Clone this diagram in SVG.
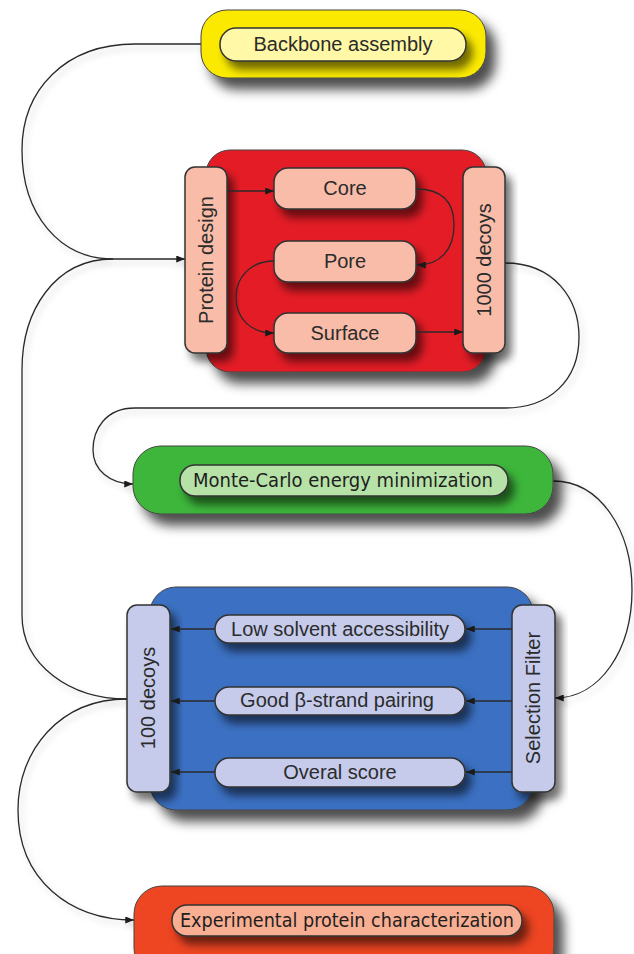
<svg xmlns="http://www.w3.org/2000/svg" width="634" height="954" viewBox="0 0 634 954">
<style>
.t{font-family:"Liberation Sans",Arial,sans-serif;font-size:20px;fill:#2b2b2b;text-anchor:middle;dominant-baseline:central}
.tc{font-family:"DejaVu Sans Condensed","DejaVu Sans",sans-serif;font-size:20px;fill:#1e1e1e;text-anchor:middle;dominant-baseline:central}
.box{stroke:#444;stroke-width:1;filter:url(#sh)}
.pill{stroke:#333;stroke-width:1.5;filter:url(#sh2)}
.c{fill:none;stroke:#2a2a2a;stroke-width:1.3}
.a{marker-end:url(#ar)}
</style>
<defs>
<filter id="sh" x="-20%" y="-30%" width="150%" height="170%">
<feGaussianBlur in="SourceAlpha" stdDeviation="6"/>
<feOffset dx="9" dy="11" result="b"/>
<feFlood flood-color="#000" flood-opacity="0.7"/>
<feComposite in2="b" operator="in"/>
<feMerge><feMergeNode/><feMergeNode in="SourceGraphic"/></feMerge>
</filter>
<filter id="sh2" x="-20%" y="-40%" width="150%" height="200%">
<feGaussianBlur in="SourceAlpha" stdDeviation="4"/>
<feOffset dx="6" dy="8" result="b"/>
<feFlood flood-color="#000" flood-opacity="0.55"/>
<feComposite in2="b" operator="in"/>
<feMerge><feMergeNode/><feMergeNode in="SourceGraphic"/></feMerge>
</filter>
<filter id="sh3" x="-20%" y="-20%" width="140%" height="140%">
<feGaussianBlur in="SourceAlpha" stdDeviation="3"/>
<feOffset dx="3" dy="4" result="b"/>
<feFlood flood-color="#000" flood-opacity="0.2"/>
<feComposite in2="b" operator="in"/>
<feMerge><feMergeNode/><feMergeNode in="SourceGraphic"/></feMerge>
</filter>
<marker id="ar" viewBox="0 0 10 8" refX="10" refY="4" markerWidth="9" markerHeight="7" markerUnits="userSpaceOnUse" orient="auto">
<path d="M0,0 L10,4 L0,8 Z" fill="#1a1a1a"/>
</marker>
</defs>

<g id="connectors" filter="url(#sh3)">
<path class="c" d="M202,44 H135 C65,44 22,90 22,150 C22,215 60,259 113,259"/>
<path class="c" d="M127,699 C70,699 22,665 22,615 V370 C22,310 55,259 113,259"/>
<path class="c a" d="M113,259 H185"/>
<path class="c a" d="M127,699 C60,699 18,750 18,810 C18,880 70,920 134,920"/>
<path class="c a" d="M505,263 C555,263 579,300 579,337 C579,380 550,408 505,408 H135 C105,408 93,430 93,450 C93,470 110,484 133,484"/>
<path class="c a" d="M553,481 C600,481 632,530 632,590 C632,650 600,698 555,698"/>
</g>

<g id="backbone">
<rect class="box" x="201" y="10" width="285" height="68" rx="26" fill="#fbea00"/>
<rect class="pill" x="220" y="28" width="246" height="33" rx="16" fill="#fff8a6"/>
<text class="t" x="343" y="44">Backbone assembly</text>
</g>

<g id="design">
<rect class="box" x="206" y="150" width="280" height="222" rx="24" fill="#e41d26"/>
<g id="protein-design">
<rect class="pill" x="185" y="167" width="42" height="186" rx="10" fill="#f8bca8"/>
<text class="t" transform="translate(206,260) rotate(-90)">Protein design</text>
</g>
<g id="core">
<rect class="pill" x="274" y="168" width="142" height="41" rx="14" fill="#f8bca8"/>
<text class="t" x="345" y="188">Core</text>
</g>
<g id="pore">
<rect class="pill" x="274" y="241" width="142" height="41" rx="14" fill="#f8bca8"/>
<text class="t" x="345" y="261">Pore</text>
</g>
<g id="surface">
<rect class="pill" x="274" y="313" width="142" height="40" rx="14" fill="#f8bca8"/>
<text class="t" x="345" y="333">Surface</text>
</g>
<g id="decoys1000">
<rect class="pill" x="463" y="167" width="42" height="186" rx="10" fill="#f8bca8"/>
<text class="t" transform="translate(484,260) rotate(-90)">1000 decoys</text>
</g>
<g id="design-connectors">
<path class="c a" d="M227,191 H274"/>
<path class="c a" d="M416,189 C445,189 454,205 454,225 C454,250 440,265 417,265"/>
<path class="c a" d="M274,261 C250,261 236,278 236,297 C236,318 250,333 274,333"/>
<path class="c a" d="M416,332 H463"/>
</g>
</g>

<g id="montecarlo">
<rect class="box" x="133" y="446" width="420" height="68" rx="28" fill="#3db63b"/>
<rect class="pill" x="180" y="465" width="328" height="31" rx="15" fill="#b6e2a8"/>
<text class="tc" x="343" y="480" textLength="300" lengthAdjust="spacingAndGlyphs">Monte-Carlo energy minimization</text>
</g>

<g id="filter">
<rect class="box" x="150" y="587" width="383" height="223" rx="26" fill="#3a6fc2"/>
<g id="decoys100">
<rect class="pill" x="127" y="605" width="43" height="187" rx="10" fill="#c6cbec"/>
<text class="t" transform="translate(148,698) rotate(-90)">100 decoys</text>
</g>
<g id="selection">
<rect class="pill" x="512" y="605" width="43" height="187" rx="10" fill="#c6cbec"/>
<text class="t" transform="translate(533,698) rotate(-90)">Selection Filter</text>
</g>
<g id="low-solvent">
<rect class="pill" x="215" y="615" width="250" height="28" rx="14" fill="#c6cbec"/>
<text class="t" x="340" y="629">Low solvent accessibility</text>
</g>
<g id="beta-strand">
<rect class="pill" x="215" y="687" width="250" height="28" rx="14" fill="#c6cbec"/>
<text class="t" x="337" y="700">Good β-strand pairing</text>
</g>
<g id="overall">
<rect class="pill" x="215" y="758" width="250" height="29" rx="14" fill="#c6cbec"/>
<text class="t" x="340" y="772">Overal score</text>
</g>
<g id="filter-connectors">
<path class="c a" d="M512,629 H466"/>
<path class="c a" d="M215,629 H171"/>
<path class="c a" d="M512,701 H466"/>
<path class="c a" d="M215,701 H171"/>
<path class="c a" d="M512,772 H466"/>
<path class="c a" d="M215,772 H171"/>
</g>
</g>

<g id="experimental">
<rect class="box" x="134" y="886" width="420" height="90" rx="28" fill="#ee4522"/>
<rect class="pill" x="172" y="905" width="350" height="31" rx="15" fill="#f8ae92"/>
<text class="tc" x="347" y="920" textLength="334" lengthAdjust="spacingAndGlyphs">Experimental protein characterization</text>
</g>
</svg>
